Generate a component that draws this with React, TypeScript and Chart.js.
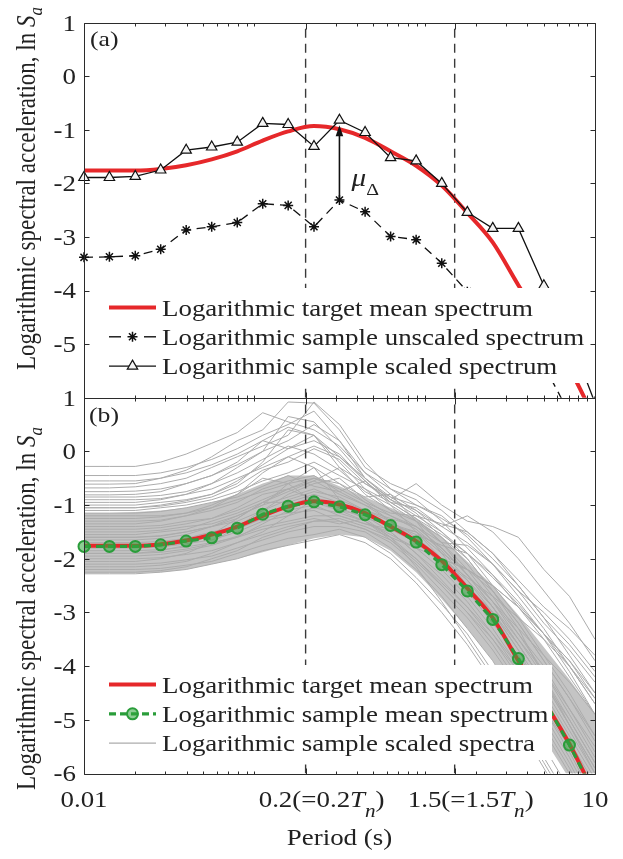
import React, { useEffect, useRef } from "react";
import { Chart, registerables } from "chart.js";
import * as helpers from "chart.js/helpers";

Chart.register(...registerables);

// ---------------- data ----------------
const periods = [0.01, 0.0141, 0.02, 0.0282, 0.0398, 0.0562, 0.0794, 0.112, 0.158, 0.224, 0.316, 0.447, 0.631, 0.891, 1.26, 1.78, 2.51, 3.55, 5.01, 7.08, 10];

const targetMean = [-1.76, -1.76, -1.76, -1.73, -1.66, -1.55, -1.4, -1.2, -1.03, -0.93, -0.99, -1.15, -1.4, -1.67, -2.04, -2.55, -3.1, -3.9, -4.65, -5.45, -6.4];
const sampleScaled = [-1.89, -1.89, -1.87, -1.75, -1.38, -1.32, -1.23, -0.88, -0.9, -1.31, -0.82, -1.05, -1.52, -1.58, -2.0, -2.54, -2.84, -2.84, -3.91, -4.85, -6.1];
const sampleUnscaled = [-3.38, -3.37, -3.35, -3.23, -2.87, -2.81, -2.73, -2.38, -2.41, -2.81, -2.31, -2.53, -2.99, -3.05, -3.49, -4.02, -4.32, -4.32, -5.39, -6.3, -7.6];
const sampleMean = [-1.77, -1.77, -1.77, -1.74, -1.67, -1.61, -1.43, -1.17, -1.02, -0.94, -1.03, -1.18, -1.38, -1.69, -2.11, -2.6, -3.13, -3.86, -4.62, -5.47, -6.4];

const denseBandUpper = [-1.15, -1.15, -1.13, -1.1, -1.05, -0.95, -0.8, -0.6, -0.45, -0.45, -0.65, -0.85, -1.05, -1.25, -1.6, -2.05, -2.5, -3.05, -3.65, -4.25, -4.9];
const denseBandLower = [-2.27, -2.27, -2.27, -2.25, -2.2, -2.1, -2.0, -1.88, -1.75, -1.62, -1.55, -1.6, -1.85, -2.25, -2.75, -3.3, -3.9, -4.6, -5.35, -6.1, -6.9];

const scaledSpectra: number[][] = [
  [-0.28, -0.28, -0.28, -0.2, -0.05, 0.15, 0.35, 0.72, 0.55, 0.4, 0.1, -0.4, -0.7, -0.9, -1.3, -1.8, -2.3, -2.9, -3.5, -4.2, -4.9],
  [-0.61, -0.61, -0.6, -0.5, -0.35, -0.1, 0.2, 0.4, 0.92, 0.9, 0.4, -0.3, -0.6, -0.8, -1.1, -1.5, -1.9, -2.5, -3.1, -3.8, -4.5],
  [-0.68, -0.68, -0.66, -0.6, -0.5, -0.3, -0.1, 0.1, 0.3, 0.92, 0.5, -0.2, -0.7, -1.0, -1.2, -1.6, -2.1, -2.7, -3.3, -4.0, -4.7],
  [-0.81, -0.81, -0.8, -0.75, -0.6, -0.45, -0.2, 0.2, 0.05, 0.3, -0.3, -0.6, -0.9, -0.6, -1.0, -1.3, -1.4, -1.6, -2.2, -2.7, -3.5],
  [-0.9, -0.9, -0.9, -0.88, -0.8, -0.7, -0.5, -0.3, -0.1, 0.1, -0.1, -0.5, -0.9, -1.2, -1.5, -1.9, -2.5, -3.1, -3.8, -4.5, -5.3],
  [-1.0, -1.0, -1.0, -0.95, -0.9, -0.8, -0.6, -0.2, 0.4, 0.3, -0.2, -0.7, -0.95, -1.05, -1.4, -1.2, -1.5, -2.0, -2.6, -3.2, -3.9],
  [-1.1, -1.1, -1.1, -1.05, -1.0, -0.9, -0.75, -0.55, -0.4, -0.2, -0.45, -0.7, -1.1, -1.4, -1.8, -2.3, -2.8, -3.4, -4.0, -4.8, -5.6],
  [-1.2, -1.2, -1.2, -1.2, -1.15, -1.0, -0.8, -0.5, -0.6, -0.3, -0.6, -0.85, -0.8, -1.3, -1.9, -2.5, -3.0, -3.6, -4.3, -5.1, -5.9],
  [-1.3, -1.3, -1.3, -1.28, -1.2, -1.1, -0.95, -0.7, -0.55, -0.45, -0.75, -0.55, -1.0, -1.5, -2.0, -2.2, -2.6, -3.2, -3.9, -4.6, -5.3],
  [-1.4, -1.4, -1.4, -1.38, -1.3, -1.25, -1.1, -0.9, -0.7, -0.55, -0.8, -1.0, -1.3, -1.7, -2.1, -2.6, -3.2, -3.8, -4.5, -5.3, -6.1],
  [-1.5, -1.5, -1.5, -1.47, -1.4, -1.35, -1.2, -1.0, -0.85, -0.7, -0.9, -1.1, -1.4, -1.5, -1.8, -2.3, -2.9, -3.5, -4.1, -4.8, -5.5],
  [-1.6, -1.6, -1.6, -1.58, -1.5, -1.4, -1.25, -0.95, -0.95, -0.8, -0.95, -1.2, -1.5, -1.9, -2.4, -2.9, -3.5, -4.2, -5.0, -5.8, -6.7],
  [-1.7, -1.7, -1.7, -1.68, -1.62, -1.5, -1.4, -1.2, -1.0, -0.85, -1.0, -1.1, -1.3, -1.6, -2.0, -2.5, -3.0, -3.7, -4.4, -5.2, -6.0],
  [-1.8, -1.8, -1.8, -1.78, -1.72, -1.65, -1.5, -1.3, -1.2, -1.05, -1.15, -1.3, -1.55, -1.8, -2.2, -2.7, -3.3, -4.0, -4.8, -5.6, -6.5],
  [-1.9, -1.9, -1.9, -1.88, -1.82, -1.72, -1.58, -1.4, -1.3, -1.2, -1.2, -1.35, -1.5, -1.9, -2.3, -2.8, -3.4, -4.1, -4.9, -5.7, -6.6],
  [-2.0, -2.0, -2.0, -1.98, -1.92, -1.85, -1.7, -1.55, -1.4, -1.3, -1.3, -1.45, -1.7, -2.1, -2.6, -3.1, -3.7, -4.4, -5.2, -6.0, -6.9],
  [-2.1, -2.1, -2.1, -2.08, -2.02, -1.95, -1.8, -1.65, -1.5, -1.4, -1.4, -1.5, -1.8, -2.2, -2.7, -3.3, -3.9, -4.7, -5.5, -6.3, -7.2],
  [-2.2, -2.2, -2.2, -2.18, -2.12, -2.05, -1.9, -1.75, -1.62, -1.55, -1.45, -1.6, -1.9, -2.35, -2.85, -3.4, -4.1, -4.9, -5.7, -6.5, -7.4],
  [-2.28, -2.28, -2.28, -2.25, -2.2, -2.1, -2.0, -1.85, -1.75, -1.65, -1.55, -1.7, -2.0, -2.45, -3.0, -3.6, -4.3, -5.1, -5.9, -6.7, -7.6],
  [-2.05, -2.05, -2.05, -2.0, -1.9, -1.7, -1.4, -1.1, -0.8, -0.6, -0.5, -0.9, -1.2, -1.4, -1.8, -2.3, -2.8, -3.3, -3.8, -4.3, -4.9],
  [-1.35, -1.35, -1.35, -1.3, -1.2, -1.05, -0.8, -0.4, -0.1, -0.3, -0.9, -1.3, -1.6, -1.8, -2.0, -2.2, -2.5, -2.9, -3.4, -3.9, -4.6],
  [-1.55, -1.55, -1.55, -1.5, -1.45, -1.3, -1.15, -0.95, -0.75, -0.55, -0.3, -0.8, -1.1, -1.3, -1.6, -2.0, -2.6, -3.3, -4.2, -5.1, -6.0],
  [-1.65, -1.65, -1.65, -1.62, -1.55, -1.4, -1.2, -1.0, -0.6, -0.95, -1.1, -1.2, -1.35, -1.5, -1.9, -2.2, -2.5, -2.9, -3.4, -3.9, -4.5],
  [-1.95, -1.95, -1.95, -1.92, -1.85, -1.75, -1.6, -1.35, -1.1, -1.0, -1.2, -1.35, -1.45, -1.7, -2.0, -2.4, -2.9, -3.6, -4.3, -5.0, -5.8],
  [-1.15, -1.15, -1.15, -1.12, -1.05, -0.95, -0.85, -0.65, -0.45, -0.65, -0.75, -1.0, -1.2, -1.45, -1.85, -2.4, -3.0, -3.7, -4.6, -5.5, -6.4],
  [-1.75, -1.75, -1.75, -1.72, -1.65, -1.55, -1.45, -1.25, -1.15, -1.1, -1.3, -1.45, -1.65, -2.0, -2.5, -3.0, -3.6, -4.3, -5.1, -5.9, -6.8],
  [-2.25, -2.25, -2.25, -2.22, -2.15, -2.0, -1.85, -1.6, -1.45, -1.3, -1.25, -1.4, -1.6, -2.0, -2.45, -2.9, -3.4, -4.0, -4.7, -5.4, -6.2],
  [-1.45, -1.45, -1.45, -1.42, -1.35, -1.25, -1.05, -0.8, -0.7, -0.9, -1.05, -1.25, -1.35, -1.55, -1.75, -1.9, -2.3, -2.8, -3.4, -4.1, -4.9],
  [-1.85, -1.85, -1.85, -1.83, -1.78, -1.7, -1.6, -1.45, -1.35, -1.25, -1.35, -1.25, -1.6, -2.15, -2.8, -3.5, -4.2, -5.0, -5.8, -6.6, -7.4],
  [-0.95, -0.95, -0.95, -0.9, -0.8, -0.6, -0.3, 0.0, 0.2, 0.5, 0.2, -0.4, -0.8, -1.1, -1.4, -1.7, -2.1, -2.6, -3.2, -3.7, -4.3],
  [-1.25, -1.25, -1.25, -1.22, -1.15, -1.05, -0.9, -0.75, -0.6, -0.5, -0.7, -0.95, -1.15, -1.2, -1.35, -1.5, -1.9, -2.4, -2.9, -3.3, -3.8],
  [-1.6, -1.6, -1.6, -1.57, -1.5, -1.4, -1.3, -1.1, -0.9, -0.75, -0.85, -1.1, -1.25, -1.4, -1.7, -1.75, -2.1, -2.6, -3.0, -3.5, -4.1],
  [-0.45, -0.45, -0.45, -0.4, -0.3, -0.15, 0.05, 0.3, 0.5, 0.75, 0.2, -0.5, -0.9, -1.1, -1.5, -2.0, -2.6, -3.2, -3.9, -4.6, -5.4],
  [-0.75, -0.75, -0.74, -0.7, -0.6, -0.45, -0.25, 0.0, 0.65, 0.55, 0.05, -0.5, -0.85, -1.15, -1.6, -2.1, -2.7, -3.4, -4.1, -4.9, -5.7],
  [-0.85, -0.85, -0.85, -0.82, -0.75, -0.6, -0.4, -0.15, 0.1, -0.05, -0.35, -0.75, -1.0, -1.3, -1.7, -2.2, -2.8, -3.5, -4.2, -5.0, -5.8],
  [-1.05, -1.05, -1.05, -1.02, -0.95, -0.85, -0.65, -0.35, -0.2, 0.05, -0.15, -0.6, -0.85, -1.0, -1.25, -1.55, -2.0, -2.5, -3.1, -3.6, -4.2],
  [-0.55, -0.55, -0.55, -0.5, -0.4, -0.25, -0.05, 0.2, 0.45, 0.3, -0.1, -0.55, -0.95, -1.25, -1.7, -2.3, -2.9, -3.6, -4.3, -5.1, -5.9],
  [-1.9, -1.9, -1.9, -1.85, -1.75, -1.55, -1.25, -0.95, -0.7, -0.5, -0.6, -0.95, -1.3, -1.65, -2.0, -2.35, -2.7, -3.1, -3.5, -4.0, -4.6],
  [-2.15, -2.15, -2.15, -2.12, -2.05, -1.9, -1.7, -1.5, -1.2, -0.9, -1.1, -1.3, -1.65, -2.05, -2.5, -3.0, -3.5, -4.1, -4.8, -5.5, -6.3],
  [-1.05, -1.05, -1.05, -1.0, -0.92, -0.8, -0.55, -0.25, 0.05, 0.2, -0.05, -0.55, -0.95, -1.25, -1.55, -1.9, -2.35, -2.85, -3.4, -4.0, -4.7],
];

const xTickValues = [0.01, 0.2, 1.5, 10];
const xTickLabels = ["0.01", "0.2(=0.2T_n)", "1.5(=1.5T_n)", "10"];
const xMinorTicks = [0.02, 0.03, 0.04, 0.05, 0.06, 0.07, 0.08, 0.09, 0.1, 0.3, 0.4, 0.5, 0.6, 0.7, 0.8, 0.9, 1, 2, 3, 4, 5, 6, 7, 8, 9];
const yTicksA = [1, 0, -1, -2, -3, -4, -5];
const yTicksB = [1, 0, -1, -2, -3, -4, -5, -6];
const refPeriods = [0.2, 1.5];
const yMin = -6;
const yMax = 1;
const xMin = 0.01;
const xMax = 10;
const muIndex = 10;
const muLabelValue = -2.05;

const legendLabelsA = [
  "Logarithmic target mean spectrum",
  "Logarithmic sample unscaled spectrum",
  "Logarithmic sample scaled spectrum",
];
const legendLabelsB = [
  "Logarithmic target mean spectrum",
  "Logarithmic sample mean spectrum",
  "Logarithmic sample scaled spectra",
];
const xAxisTitle = "Period (s)";
const yAxisTitle = "Logarithmic spectral acceleration, ln ";

// ---------------- styles ----------------
const W = 623;
const H = 859;
const SERIF = "'Liberation Serif', 'Times New Roman', Times, serif";
const SX = 1.17;
const TEXT = "#222222";
const AXIS = "#2b2b2b";
const RED = "#e6282a";
const GREEN = "#2a9d3a";
const GREEN_FILL = "rgba(50,165,60,0.55)";
const GRAY_LINE = "rgb(172,172,172)";
const GRAY_BAND = "rgb(196,196,196)";
const DASH_COLOR = "#3a3a3a";

type Run = { t: string; italic?: boolean; size?: number; dy?: number };

function fontOf(size: number, italic?: boolean) {
  return `${italic ? "italic " : ""}${size}px ${SERIF}`;
}
function measureRuns(ctx: CanvasRenderingContext2D, runs: Run[], base: number) {
  let w = 0;
  for (const r of runs) {
    ctx.font = fontOf(r.size || base, r.italic);
    w += ctx.measureText(r.t).width;
  }
  return w;
}
function drawRuns(ctx: CanvasRenderingContext2D, runs: Run[], x: number, y: number, base: number, align: "left" | "center" | "right", sx: number) {
  ctx.save();
  ctx.translate(x, y);
  ctx.scale(sx, 1);
  ctx.textAlign = "left";
  ctx.textBaseline = "alphabetic";
  const w = measureRuns(ctx, runs, base);
  let cx = align === "right" ? -w : align === "center" ? -w / 2 : 0;
  for (const r of runs) {
    ctx.font = fontOf(r.size || base, r.italic);
    ctx.fillText(r.t, cx, r.dy || 0);
    cx += ctx.measureText(r.t).width;
  }
  ctx.restore();
}
function labelRuns(label: string): Run[] {
  const i = label.indexOf("T_n");
  if (i < 0) return [{ t: label }];
  return [
    { t: label.slice(0, i) },
    { t: "T", italic: true },
    { t: "n", italic: true, size: 18, dy: 10 },
    { t: label.slice(i + 3) },
  ];
}
const snap = (v: number) => Math.round(v) + 0.5;

function drawFrame(chart: any, yTicks: number[]) {
  const { ctx, chartArea: ca } = chart;
  const xs = chart.scales.x;
  const ys = chart.scales.y;
  ctx.save();
  ctx.strokeStyle = AXIS;
  ctx.lineWidth = 1;
  const L = snap(ca.left), R = snap(ca.right), T = snap(ca.top), B = snap(ca.bottom);
  ctx.beginPath();
  ctx.rect(L, T, R - L, B - T);
  for (const v of yTicks) {
    const y = snap(ys.getPixelForValue(v));
    ctx.moveTo(L, y); ctx.lineTo(L + 5, y);
    ctx.moveTo(R, y); ctx.lineTo(R - 5, y);
  }
  for (const v of xTickValues) {
    const x = snap(xs.getPixelForValue(v));
    ctx.moveTo(x, B); ctx.lineTo(x, B - 6);
    ctx.moveTo(x, T); ctx.lineTo(x, T + 6);
  }
  for (const v of xMinorTicks) {
    const x = snap(xs.getPixelForValue(v));
    ctx.moveTo(x, B); ctx.lineTo(x, B - 3);
    ctx.moveTo(x, T); ctx.lineTo(x, T + 3);
  }
  ctx.stroke();
  ctx.restore();
  ctx.save();
  ctx.fillStyle = TEXT;
  for (const v of yTicks) {
    const y = ys.getPixelForValue(v);
    drawRuns(ctx, [{ t: String(v) }], ca.left - 8, y + 7.8, 23, "right", SX);
  }
  ctx.restore();
}

function drawYTitle(ctx: CanvasRenderingContext2D, centerY: number) {
  ctx.save();
  ctx.fillStyle = TEXT;
  ctx.translate(35, centerY);
  ctx.rotate(-Math.PI / 2);
  ctx.scale(1, SX);
  drawRuns(ctx, [{ t: yAxisTitle }, { t: "S", italic: true }, { t: "a", italic: true, size: 17, dy: 6 }], 0, 0, 23, "center", 1);
  ctx.restore();
}

type Sample = (ctx: CanvasRenderingContext2D, x0: number, x1: number, y: number) => void;
function drawLegend(ctx: CanvasRenderingContext2D, box: { x: number; y: number; w: number; h: number }, labels: string[], samples: Sample[]) {
  ctx.save();
  ctx.fillStyle = "#ffffff";
  ctx.fillRect(box.x, box.y, box.w, box.h);
  labels.forEach((lab, i) => {
    const base = box.y + 27.5 + i * 29.3;
    const ly = base - 8;
    ctx.save();
    samples[i](ctx, box.x + 11, box.x + 58, ly);
    ctx.restore();
    ctx.fillStyle = TEXT;
    drawRuns(ctx, [{ t: lab }], box.x + 64, base, 23, "left", SX);
  });
  ctx.restore();
}

function seg(ctx: CanvasRenderingContext2D, x0: number, x1: number, y: number) {
  ctx.beginPath();
  ctx.moveTo(x0, y);
  ctx.lineTo(x1, y);
  ctx.stroke();
}

const samplesA: Sample[] = [
  (ctx, x0, x1, y) => { ctx.strokeStyle = RED; ctx.lineWidth = 4; seg(ctx, x0, x1, y); },
  (ctx, x0, x1, y) => {
    ctx.strokeStyle = "#111"; ctx.lineWidth = 1.4;
    seg(ctx, x0, x0 + 12, y); seg(ctx, x1 - 12, x1, y);
    ctx.lineWidth = 1.5; ctx.fillStyle = "#111";
    (helpers as any).drawPoint(ctx, { pointStyle: "star", radius: 5, rotation: 0, borderWidth: 1.5 }, (x0 + x1) / 2, y);
  },
  (ctx, x0, x1, y) => {
    ctx.strokeStyle = "#111"; ctx.lineWidth = 1.3; seg(ctx, x0, x1, y);
    ctx.fillStyle = "#f4f4f4"; ctx.lineWidth = 1.2;
    (helpers as any).drawPoint(ctx, { pointStyle: "triangle", radius: 6, rotation: 0, borderWidth: 1.2 }, (x0 + x1) / 2, y);
  },
];
const samplesB: Sample[] = [
  (ctx, x0, x1, y) => { ctx.strokeStyle = RED; ctx.lineWidth = 4; seg(ctx, x0, x1, y); },
  (ctx, x0, x1, y) => {
    ctx.strokeStyle = GREEN; ctx.lineWidth = 3.2; ctx.setLineDash([7, 4]); seg(ctx, x0, x1, y); ctx.setLineDash([]);
    ctx.fillStyle = GREEN_FILL; ctx.lineWidth = 2;
    (helpers as any).drawPoint(ctx, { pointStyle: "circle", radius: 5.5, rotation: 0, borderWidth: 2 }, (x0 + x1) / 2, y);
  },
  (ctx, x0, x1, y) => { ctx.strokeStyle = GRAY_LINE; ctx.lineWidth = 1.3; seg(ctx, x0, x1, y); },
];

// ---------------- helpers for data ----------------
const pts = (ys: number[]) => periods.map((x, i) => ({ x, y: ys[i] }));
const vline = (p: number) => [{ x: p, y: yMin }, { x: p, y: yMax }];
const CLIP = { left: 10, top: 0, right: 0, bottom: 0 };

function baseOptions(padding: any) {
  return {
    animation: false,
    responsive: false,
    devicePixelRatio: 1,
    events: [],
    layout: { padding },
    plugins: { legend: { display: false }, tooltip: { enabled: false } },
    scales: {
      x: { type: "logarithmic", min: xMin, max: xMax, display: false },
      y: { type: "linear", min: yMin, max: yMax, display: false },
    },
  };
}

const decorA = {
  id: "decorA",
  afterDraw(chart: any) {
    const ctx: CanvasRenderingContext2D = chart.ctx;
    const xs = chart.scales.x, ys = chart.scales.y, ca = chart.chartArea;
    const ax = xs.getPixelForValue(periods[muIndex]);
    const yFrom = ys.getPixelForValue(sampleUnscaled[muIndex]);
    const yTip = ys.getPixelForValue(sampleScaled[muIndex]) + 5;
    ctx.save();
    ctx.strokeStyle = "#111"; ctx.fillStyle = "#111"; ctx.lineWidth = 1.6;
    ctx.beginPath(); ctx.moveTo(ax, yFrom); ctx.lineTo(ax, yTip + 8); ctx.stroke();
    ctx.beginPath(); ctx.moveTo(ax, yTip); ctx.lineTo(ax - 3.8, yTip + 11); ctx.lineTo(ax + 3.8, yTip + 11); ctx.closePath(); ctx.fill();
    ctx.fillStyle = TEXT;
    drawRuns(ctx, [{ t: "μ", italic: true, size: 25 }, { t: "Δ", size: 17, dy: 9 }], ax + 12, ys.getPixelForValue(muLabelValue), 23, "left", SX);
    ctx.restore();
    drawFrame(chart, yTicksA);
    ctx.save();
    ctx.fillStyle = TEXT;
    drawRuns(ctx, [{ t: "(a)" }], ca.left + 6, ca.top + 23, 22, "left", SX);
    ctx.restore();
    drawYTitle(ctx, 188.5);
    drawLegend(ctx, { x: 98, y: 288, w: 491, h: 95 }, legendLabelsA, samplesA);
  },
};

const decorB = {
  id: "decorB",
  afterDraw(chart: any) {
    const ctx: CanvasRenderingContext2D = chart.ctx;
    const xs = chart.scales.x, ca = chart.chartArea;
    drawFrame(chart, yTicksB);
    ctx.save();
    ctx.fillStyle = TEXT;
    drawRuns(ctx, [{ t: "(b)" }], ca.left + 5, ca.top + 24, 22, "left", SX);
    xTickValues.forEach((v, i) => {
      const runs = labelRuns(xTickLabels[i]);
      const shift = runs.length > 1 ? 16 : 0;
      drawRuns(ctx, runs, xs.getPixelForValue(v) + shift, ca.bottom + 33.5, 23, "center", SX);
    });
    drawRuns(ctx, [{ t: xAxisTitle }], (ca.left + ca.right) / 2, ca.bottom + 71.5, 23, "center", SX);
    ctx.restore();
    drawYTitle(ctx, 608.5);
    drawLegend(ctx, { x: 98, y: 665, w: 454, h: 95 }, legendLabelsB, samplesB);
  },
};

function configA(): any {
  return {
    type: "line",
    data: {
      datasets: [
        {
          data: pts(sampleScaled), borderColor: "#111", borderWidth: 1.3,
          pointStyle: "triangle", pointRadius: 6, pointBackgroundColor: "#f4f4f4",
          pointBorderColor: "#111", pointBorderWidth: 1.2, clip: CLIP,
        },
        {
          data: pts(sampleUnscaled), borderColor: "#111", borderWidth: 1.3, borderDash: [9, 6],
          pointStyle: "star", pointRadius: 5, pointBorderColor: "#111", pointBorderWidth: 1.5,
          pointBackgroundColor: "#111", clip: CLIP,
        },
        {
          data: pts(targetMean), borderColor: RED, borderWidth: 4, pointRadius: 0,
          cubicInterpolationMode: "monotone", clip: CLIP,
        },
        ...refPeriods.map((p) => ({
          data: vline(p), borderColor: DASH_COLOR, borderWidth: 1.4, borderDash: [9, 6], pointRadius: 0, clip: 0,
        })),
      ],
    },
    options: baseOptions({ left: 84, top: 22.7, right: W - 595, bottom: H - 397.7 }),
    plugins: [decorA],
  };
}

function configB(): any {
  return {
    type: "line",
    data: {
      datasets: [
        {
          data: pts(sampleMean), borderColor: GREEN, borderWidth: 3.2, borderDash: [7, 5],
          pointStyle: "circle", pointRadius: 5.5, pointBackgroundColor: GREEN_FILL,
          pointBorderColor: GREEN, pointBorderWidth: 2, clip: CLIP,
        },
        {
          data: pts(targetMean), borderColor: RED, borderWidth: 4, pointRadius: 0,
          cubicInterpolationMode: "monotone", clip: CLIP,
        },
        ...refPeriods.map((p) => ({
          data: vline(p), borderColor: DASH_COLOR, borderWidth: 1.4, borderDash: [9, 6], pointRadius: 0, clip: 0,
        })),
        ...scaledSpectra.map((s) => ({
          data: pts(s), borderColor: GRAY_LINE, borderWidth: 1, pointRadius: 0, clip: 0,
        })),
        {
          data: pts(denseBandUpper), borderWidth: 0, borderColor: "rgba(0,0,0,0)", pointRadius: 0,
          backgroundColor: GRAY_BAND, fill: "+1", clip: 0,
        },
        {
          data: pts(denseBandLower), borderWidth: 0, borderColor: "rgba(0,0,0,0)", pointRadius: 0, clip: 0,
        },
      ],
    },
    options: baseOptions({ left: 84, top: 397.7, right: W - 595, bottom: H - 773.5 }),
    plugins: [decorB],
  };
}

export default function App() {
  const refA = useRef<HTMLCanvasElement>(null);
  const refB = useRef<HTMLCanvasElement>(null);
  useEffect(() => {
    const a = new Chart(refA.current as HTMLCanvasElement, configA());
    const b = new Chart(refB.current as HTMLCanvasElement, configB());
    return () => {
      a.destroy();
      b.destroy();
    };
  }, []);
  return (
    <div style={{ position: "absolute", left: 0, top: 0, width: W, height: H, background: "#fff", overflow: "hidden" }}>
      <canvas ref={refA} width={W} height={H} style={{ position: "absolute", left: 0, top: 0 }} />
      <canvas ref={refB} width={W} height={H} style={{ position: "absolute", left: 0, top: 0 }} />
    </div>
  );
}
